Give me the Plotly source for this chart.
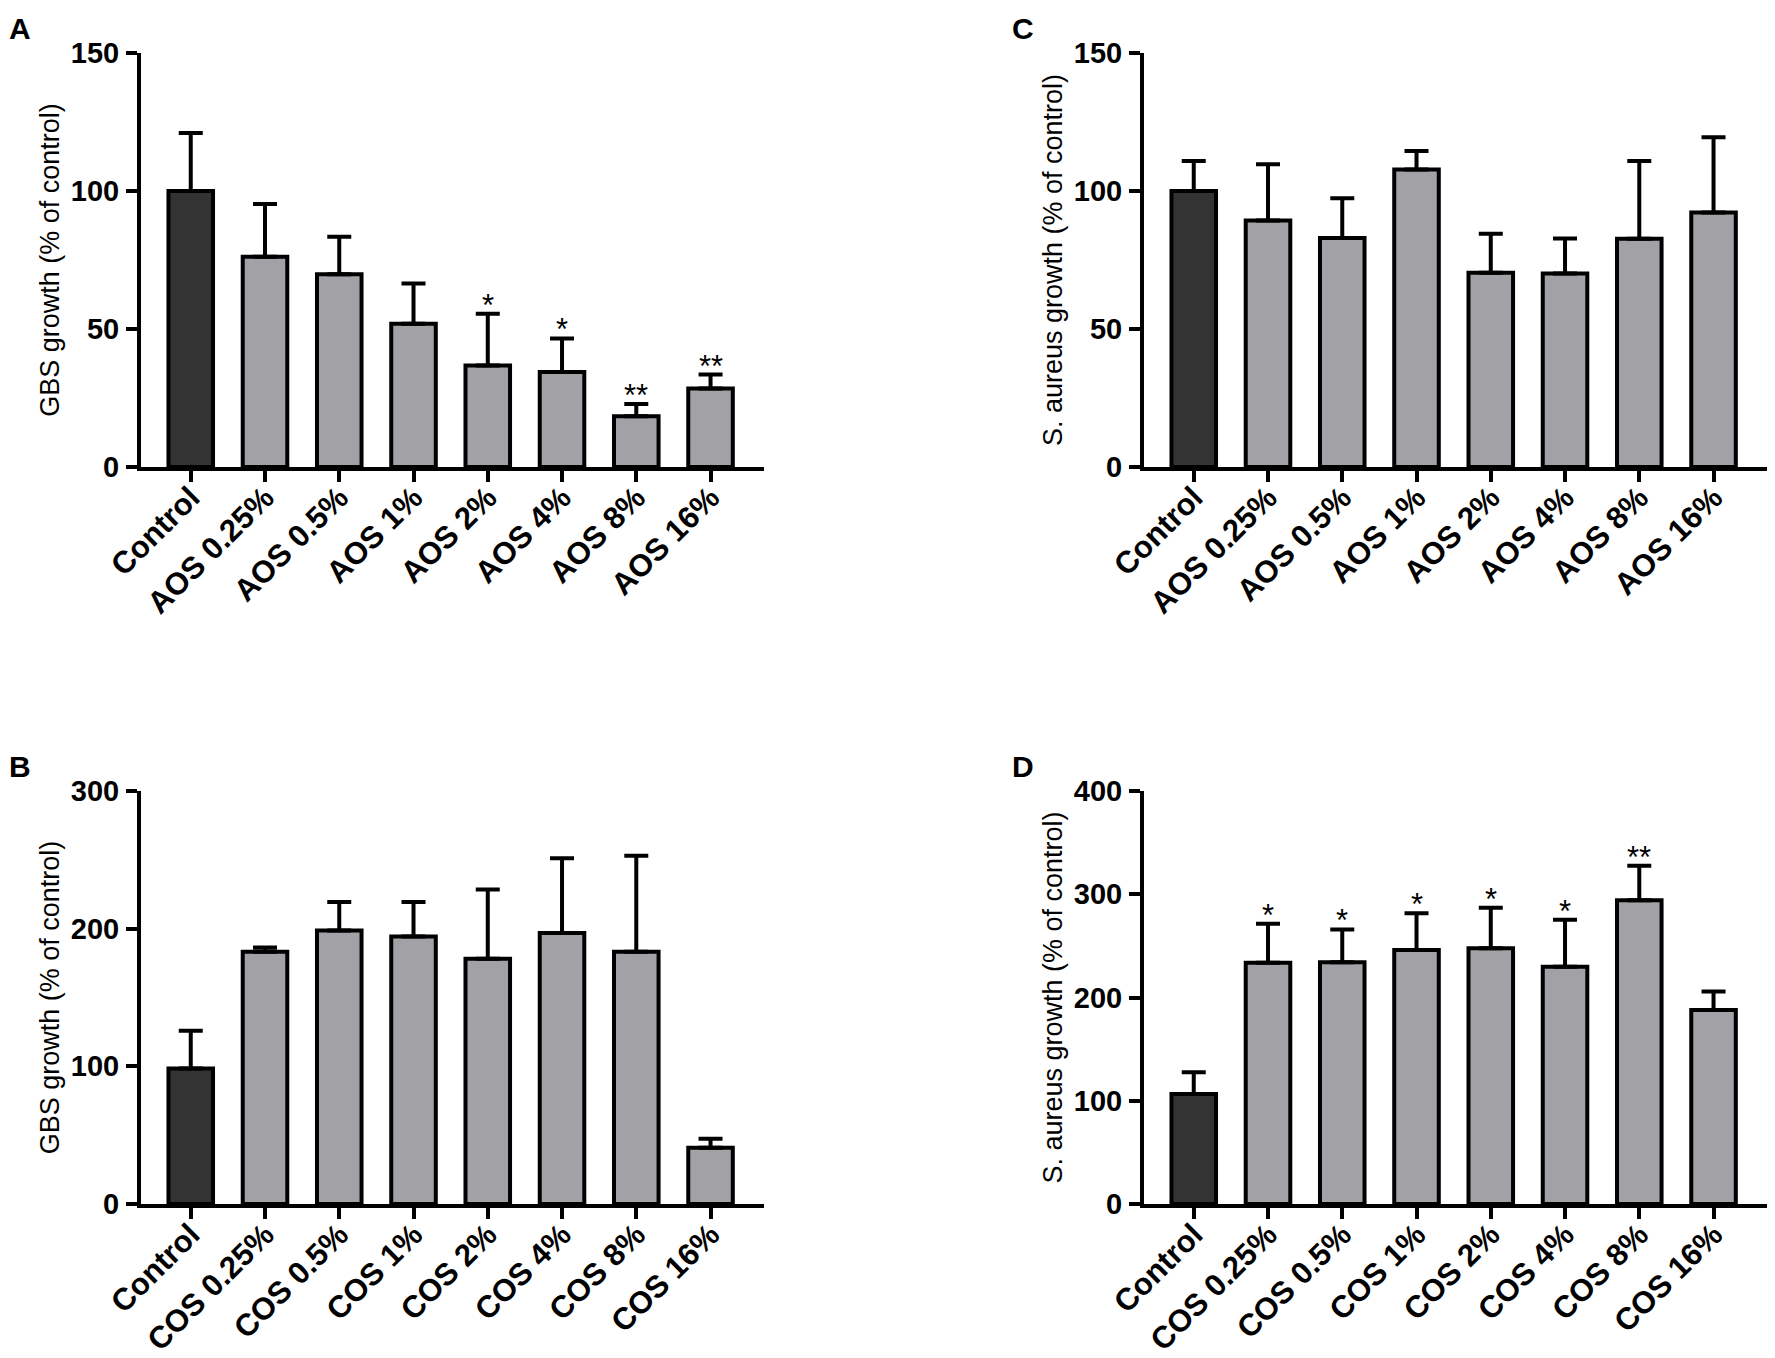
import plotly.graph_objects as go

W, H = 1775, 1358

cats_aos = ["Control", "AOS 0.25%", "AOS 0.5%", "AOS 1%", "AOS 2%", "AOS 4%", "AOS 8%", "AOS 16%"]
cats_cos = ["Control", "COS 0.25%", "COS 0.5%", "COS 1%", "COS 2%", "COS 4%", "COS 8%", "COS 16%"]

# Panel A: GBS growth with AOS
a_mean = [100, 76.2, 69.8, 51.9, 36.8, 34.4, 18.4, 28.4]
a_sd = [21.0, 19.1, 13.6, 14.6, 18.7, 12.2, 4.4, 5.1]
a_sig = ["", "", "", "", "*", "*", "**", "**"]
a_ticks = [0, 50, 100, 150]

# Panel B: GBS growth with COS
b_mean = [98.5, 183.3, 198.6, 194.3, 178.1, 196.8, 183.3, 40.9]
b_sd = [27.3, 3.1, 20.8, 25.1, 50.4, 54.3, 69.7, 6.5]
b_sig = ["", "", "", "", "", "", "", ""]
b_ticks = [0, 100, 200, 300]

# Panel C: S. aureus growth with AOS
c_mean = [100, 89.3, 83.0, 107.8, 70.4, 70.1, 82.7, 92.2]
c_sd = [10.9, 20.4, 14.4, 6.7, 14.1, 12.7, 28.2, 27.3]
c_sig = ["", "", "", "", "", "", "", ""]
c_ticks = [0, 50, 100, 150]

# Panel D: S. aureus growth with COS
d_mean = [106.5, 233.7, 234.1, 245.9, 247.6, 229.7, 294.3, 187.8]
d_sd = [21.1, 37.8, 31.8, 35.8, 39.4, 45.5, 33.3, 17.9]
d_sig = ["", "*", "*", "*", "*", "*", "**", ""]
d_ticks = [0, 100, 200, 300, 400]

panel_letters = ["A", "B", "C", "D"]
y_titles = ["GBS growth (% of control)", "GBS growth (% of control)",
            "S. aureus growth (% of control)", "S. aureus growth (% of control)"]

DARK = "#333333"
GREY = "#a2a1a6"
FONT = "Liberation Sans, Arial, Helvetica, sans-serif"

fig = go.Figure()

# pixel boxes: (left, right, top, bottom)
boxes = [
    (141, 764, 53, 467),     # A
    (141, 764, 791, 1204),   # B
    (1144, 1767, 53, 467),   # C
    (1144, 1767, 791, 1204), # D
]
panels = [
    (cats_aos, a_mean, a_sd, a_sig, a_ticks),
    (cats_cos, b_mean, b_sd, b_sig, b_ticks),
    (cats_aos, c_mean, c_sd, c_sig, c_ticks),
    (cats_cos, d_mean, d_sd, d_sig, d_ticks),
]

layout_axes = {}
annotations = []
for i, ((cats, mean, sd, sig, ticks), box) in enumerate(zip(panels, boxes)):
    n = i + 1
    xa = "x" if n == 1 else f"x{n}"
    ya = "y" if n == 1 else f"y{n}"
    colors = [DARK] + [GREY] * (len(cats) - 1)
    fig.add_trace(go.Bar(
        x=list(range(len(cats))), y=mean, width=0.6,
        marker=dict(color=colors, line=dict(color="black", width=4)),
        error_y=dict(type="data", symmetric=False, array=sd,
                     arrayminus=[0] * len(sd), color="black",
                     thickness=4, width=12),
        xaxis=xa, yaxis=ya, showlegend=False, hoverinfo="skip",
    ))
    for k, (m, s, txt) in enumerate(zip(mean, sd, sig)):
        if txt:
            annotations.append(dict(
                text=txt, x=k, y=m + s, xref=xa, yref=ya,
                xanchor="center", yanchor="bottom", yshift=-11,
                showarrow=False,
                font=dict(family=FONT, size=31, color="black"),
            ))
    l, r, t, b = box
    xd = [l / W, r / W]
    yd = [1 - b / H, 1 - t / H]
    key_x = "xaxis" if n == 1 else f"xaxis{n}"
    key_y = "yaxis" if n == 1 else f"yaxis{n}"
    layout_axes[key_x] = dict(
        domain=xd, anchor=ya, range=[-0.67, 7.72],
        tickmode="array", tickvals=list(range(len(cats))), ticktext=cats,
        tickangle=-45, ticks="outside", ticklen=11, tickwidth=4,
        tickcolor="black", showline=True, linewidth=4, linecolor="black",
        showgrid=False, zeroline=False, automargin=False,
        tickfont=dict(family=FONT, size=31, color="black", weight="bold"),
        ticklabelstandoff=-15,
    )
    layout_axes[key_y] = dict(
        domain=yd, anchor=xa, range=[0, ticks[-1]],
        tickmode="array", tickvals=ticks, ticktext=[str(v) for v in ticks],
        ticks="outside", ticklen=11, tickwidth=4, tickcolor="black",
        showline=True, linewidth=4, linecolor="black",
        showgrid=False, zeroline=False, automargin=False,
        tickfont=dict(family=FONT, size=29, color="black", weight="bold"),
        ticklabelstandoff=1,
        title=dict(text=y_titles[i], standoff=4,
                   font=dict(family=FONT, size=27, color="black")),
    )
    annotations.append(dict(
        text=panel_letters[i], xref="paper", yref="paper",
        x=(l - 121) / W, y=1 - (t - 25) / H,
        xanchor="center", yanchor="middle", showarrow=False,
        font=dict(family=FONT, size=30, color="black", weight="bold"),
    ))

fig.update_layout(
    width=W, height=H,
    margin=dict(l=0, r=0, t=0, b=0),
    paper_bgcolor="white", plot_bgcolor="white",
    annotations=annotations,
    **layout_axes,
)

fig.write_html(
    "out.html",
    config={"displayModeBar": False},
    post_script="document.body.style.margin='0';document.body.style.overflow='hidden';",
)
